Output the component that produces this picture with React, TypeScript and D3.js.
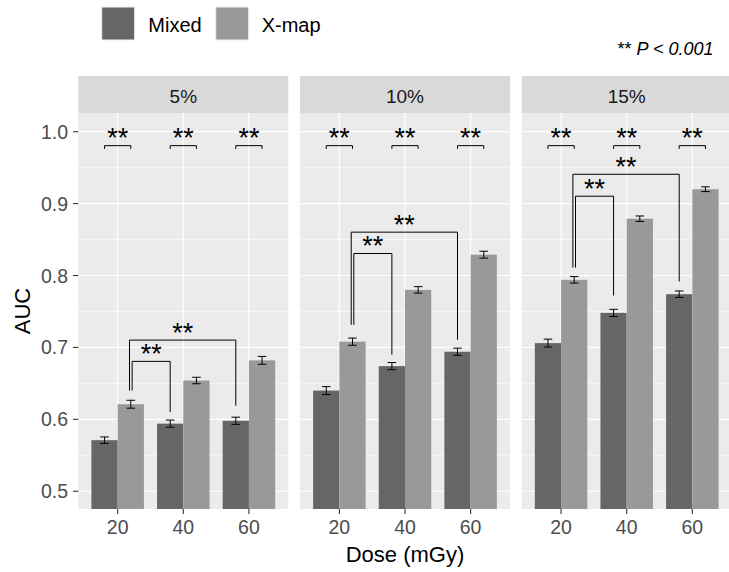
import React, { useEffect, useRef } from 'react'
import * as d3 from 'd3'

// data
const facets = ['5%', '10%', '15%']
const doses = ['20', '40', '60']
const methods = ['Mixed', 'X-map']

const mixedAUC = [
  [0.571, 0.594, 0.598],
  [0.640, 0.674, 0.694],
  [0.706, 0.748, 0.774],
]
const xmapAUC = [
  [0.621, 0.654, 0.682],
  [0.708, 0.780, 0.829],
  [0.794, 0.879, 0.920],
]
const mixedErr = [
  [0.0045, 0.005, 0.005],
  [0.0055, 0.005, 0.005],
  [0.0055, 0.005, 0.0045],
]
const xmapErr = [
  [0.0055, 0.0045, 0.0055],
  [0.005, 0.0045, 0.0048],
  [0.0045, 0.0038, 0.0033],
]

// pairwise bracket (Mixed vs X-map within dose)
const pairBracketY = 0.9806
// X-map 20 vs Mixed 40 (inner) and X-map 20 vs Mixed 60 (outer), per facet
const innerTop = [0.6806, 0.8306, 0.9103]
const innerLeftEnd = [0.640, 0.7315, 0.811]
const innerRightEnd = [0.610, 0.690, 0.7722]
const outerTop = [0.7102, 0.8603, 0.9408]
const outerLeftEnd = [0.640, 0.7315, 0.811]
const outerRightEnd = [0.619, 0.7107, 0.7917]

const yTicks = [0.5, 0.6, 0.7, 0.8, 0.9, 1.0]
const yMinor = [0.55, 0.65, 0.75, 0.85, 0.95]

const W = 729
const H = 572

const App = () => {
  const ref = useRef<SVGSVGElement>(null)

  useEffect(() => {
    const DARK = '#666666'
    const LIGHT = '#999999'
    const PANEL = '#EBEBEB'
    const STRIP = '#D9D9D9'
    const FONT = 'Liberation Sans, Arial, sans-serif'
    const svg = d3.select(ref.current)
    svg.selectAll('*').remove()

    const top = 113
    const bottom = 509
    const stripTop = 76

    const y = d3.scaleLinear().domain([0.4753, 1.026]).range([bottom, top])
    const fx = d3
      .scaleBand()
      .domain(facets)
      .range([78.3, 731.7])
      .paddingInner(11.7 / 221.7)
    const x = d3.scaleBand().domain(doses).range([0, fx.bandwidth()]).paddingOuter(0.1).paddingInner(0)
    const bw = x.bandwidth()
    const xm = d3.scaleBand().domain(methods).range([0.1 * bw, 0.9 * bw])
    const cx = (d: string, m: string) => (x(d) as number) + (xm(m) as number) + xm.bandwidth() / 2

    facets.forEach((f, fi) => {
      const g = svg.append('g').attr('transform', `translate(${fx(f)},0)`)
      const pw = fx.bandwidth()

      // strip
      g.append('rect').attr('x', 0).attr('y', stripTop).attr('width', pw).attr('height', top - stripTop).attr('fill', STRIP)
      g.append('text')
        .attr('x', pw / 2)
        .attr('y', 102.5)
        .attr('text-anchor', 'middle')
        .attr('font-family', FONT)
        .attr('font-size', 19)
        .attr('fill', '#1A1A1A')
        .text(f)

      // panel + grid
      g.append('rect').attr('x', 0).attr('y', top).attr('width', pw).attr('height', bottom - top).attr('fill', PANEL)
      g.selectAll('.minor')
        .data(yMinor)
        .join('line')
        .attr('x1', 0)
        .attr('x2', pw)
        .attr('y1', (d) => y(d))
        .attr('y2', (d) => y(d))
        .attr('stroke', 'white')
        .attr('stroke-width', 0.6)
      g.selectAll('.major')
        .data(yTicks)
        .join('line')
        .attr('x1', 0)
        .attr('x2', pw)
        .attr('y1', (d) => y(d))
        .attr('y2', (d) => y(d))
        .attr('stroke', 'white')
        .attr('stroke-width', 1.2)
      g.selectAll('.vgrid')
        .data(doses)
        .join('line')
        .attr('x1', (d) => (x(d) as number) + bw / 2)
        .attr('x2', (d) => (x(d) as number) + bw / 2)
        .attr('y1', top)
        .attr('y2', bottom)
        .attr('stroke', 'white')
        .attr('stroke-width', 1.2)

      // bars
      const rows = doses.flatMap((d, i) => [
        { d, m: 'Mixed', v: mixedAUC[fi][i], e: mixedErr[fi][i], c: DARK },
        { d, m: 'X-map', v: xmapAUC[fi][i], e: xmapErr[fi][i], c: LIGHT },
      ])
      g.selectAll('.bar')
        .data(rows)
        .join('rect')
        .attr('x', (r) => (x(r.d) as number) + (xm(r.m) as number))
        .attr('width', xm.bandwidth())
        .attr('y', (r) => y(r.v))
        .attr('height', (r) => bottom - y(r.v))
        .attr('fill', (r) => r.c)

      // error bars
      const eb = g.append('g').attr('stroke', 'black').attr('stroke-width', 1).attr('fill', 'none')
      rows.forEach((r) => {
        const c = cx(r.d, r.m)
        const hw = 4.3
        eb.append('line').attr('x1', c).attr('x2', c).attr('y1', y(r.v + r.e)).attr('y2', y(r.v - r.e))
        eb.append('line').attr('x1', c - hw).attr('x2', c + hw).attr('y1', y(r.v + r.e)).attr('y2', y(r.v + r.e))
        eb.append('line').attr('x1', c - hw).attr('x2', c + hw).attr('y1', y(r.v - r.e)).attr('y2', y(r.v - r.e))
      })

      // significance brackets
      const sg = g.append('g').attr('stroke', 'black').attr('stroke-width', 1).attr('fill', 'none')
      const stars = g.append('g').attr('font-family', FONT).attr('font-size', 27).attr('text-anchor', 'middle').attr('fill', 'black')
      const star = (xx: number, yy: number) => stars.append('text').attr('x', xx).attr('y', yy + 1.5).text('**')
      const bracket = (x1: number, x2: number, yTop: number, yl: number, yr: number) => {
        sg.append('path').attr('d', `M${x1},${y(yl)}V${y(yTop)}H${x2}V${y(yr)}`)
        star((x1 + x2) / 2, y(yTop))
      }
      doses.forEach((d) => {
        bracket(cx(d, 'Mixed'), cx(d, 'X-map'), pairBracketY, pairBracketY - 0.0045, pairBracketY - 0.0045)
      })
      const off = 0.02 * bw
      bracket(cx('20', 'X-map') + off, cx('40', 'Mixed'), innerTop[fi], innerLeftEnd[fi], innerRightEnd[fi])
      bracket(cx('20', 'X-map') - off, cx('60', 'Mixed'), outerTop[fi], outerLeftEnd[fi], outerRightEnd[fi])

      // x axis ticks
      const xa = g.append('g')
      doses.forEach((d) => {
        const xx = (x(d) as number) + bw / 2
        xa.append('line').attr('x1', xx).attr('x2', xx).attr('y1', bottom).attr('y2', bottom + 5).attr('stroke', '#333333').attr('stroke-width', 1.1)
        xa.append('text')
          .attr('x', xx)
          .attr('y', 533.5)
          .attr('text-anchor', 'middle')
          .attr('font-family', FONT)
          .attr('font-size', 19.5)
          .attr('fill', '#4D4D4D')
          .text(d)
      })
    })

    // y axis
    const ya = svg.append('g')
    yTicks.forEach((t) => {
      ya.append('line').attr('x1', 73).attr('x2', 78.3).attr('y1', y(t)).attr('y2', y(t)).attr('stroke', '#333333').attr('stroke-width', 1.1)
      ya.append('text')
        .attr('x', 68)
        .attr('y', y(t))
        .attr('dy', '0.36em')
        .attr('text-anchor', 'end')
        .attr('font-family', FONT)
        .attr('font-size', 19.5)
        .attr('fill', '#4D4D4D')
        .text(t.toFixed(1))
    })

    // axis titles
    svg.append('text')
      .attr('x', 405)
      .attr('y', 561.5)
      .attr('text-anchor', 'middle')
      .attr('font-family', FONT)
      .attr('font-size', 22)
      .attr('fill', 'black')
      .text('Dose (mGy)')
    svg.append('text')
      .attr('transform', 'translate(30,311) rotate(-90)')
      .attr('text-anchor', 'middle')
      .attr('font-family', FONT)
      .attr('font-size', 22)
      .attr('fill', 'black')
      .text('AUC')

    // legend
    const legend = [
      { m: 'Mixed', c: DARK, x: 101.7, tx: 148.3 },
      { m: 'X-map', c: LIGHT, x: 215.7, tx: 261.7 },
    ]
    legend.forEach((l) => {
      svg.append('rect').attr('x', l.x).attr('y', 7).attr('width', 33).attr('height', 33).attr('fill', l.c).attr('stroke', '#F2F2F2').attr('stroke-width', 1)
      svg.append('text')
        .attr('x', l.tx)
        .attr('y', 31.7)
        .attr('font-family', FONT)
        .attr('font-size', 20)
        .attr('fill', 'black')
        .text(l.m)
    })

    // p-value note
    const note = svg.append('text').attr('x', 713.5).attr('y', 55).attr('text-anchor', 'end').attr('font-family', FONT).attr('font-size', 18).attr('fill', 'black')
    note.append('tspan').text('** ')
    note.append('tspan').attr('font-style', 'italic').text('P < 0.001')
  }, [])

  return <svg ref={ref} width={W} height={H} style={{ position: 'absolute', left: 0, top: 0, background: 'white' }} />
}

export default App
